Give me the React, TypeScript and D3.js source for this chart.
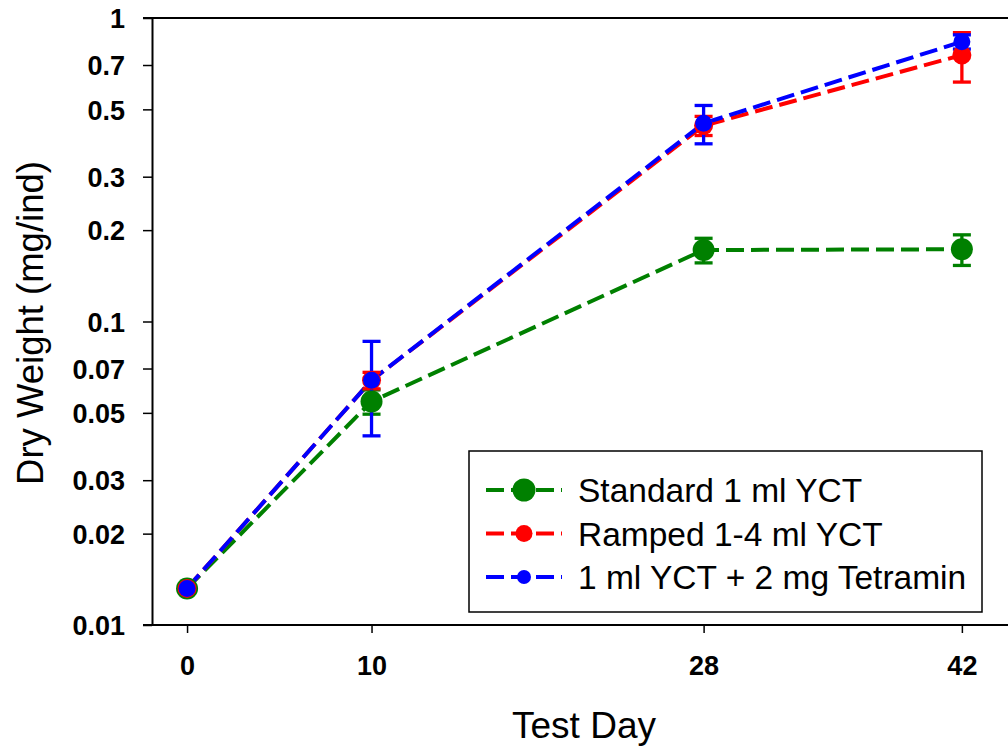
import React, { useRef, useEffect } from 'react';
import * as d3 from 'd3';

// test days and measured dry weights (mg/ind), with error bar half-widths
const days = [0, 10, 28, 42];
const standardMean = [0.0132, 0.0545, 0.172, 0.173];
const standardErr = [0, 0.005, 0.016, 0.02];
const rampedMean = [0.0132, 0.064, 0.442, 0.755];
const rampedErr = [0, 0.004, 0.032, 0.14];
const tetraminMean = [0.0132, 0.064, 0.45, 0.835];
const tetraminErr = [0, 0.022, 0.065, 0.045];

const seriesNames = ['Standard 1 ml YCT', 'Ramped 1-4 ml YCT', '1 ml YCT + 2 mg Tetramin'];
const yTicks = [0.01, 0.02, 0.03, 0.05, 0.07, 0.1, 0.2, 0.3, 0.5, 0.7, 1];
const xTicks = [0, 10, 28, 42];

const FONT = "Arial, 'Liberation Sans', sans-serif";

const App = () => {
  const svgRef = useRef<SVGSVGElement>(null);
  const width = 1008;
  const height = 750;

  useEffect(() => {
    const svg = d3.select(svgRef.current);
    svg.selectAll('*').remove();

    const plotLeft = 152;
    const plotTop = 18;
    const plotBottom = 625;

    const x = d3.scaleLinear().domain([-1.9, 44.5]).range([plotLeft, width]);
    const y = d3.scaleLog().domain([0.01, 1]).range([plotBottom, plotTop]);

    const series = [
      { name: seriesNames[0], mean: standardMean, err: standardErr, color: '#008000', r: 11, lr: 11.5 },
      { name: seriesNames[1], mean: rampedMean, err: rampedErr, color: '#ff0000', r: 9.5, lr: 8.5 },
      { name: seriesNames[2], mean: tetraminMean, err: tetraminErr, color: '#0000ff', r: 8.5, lr: 7 },
    ];

    // frame lines
    svg.append('line')
      .attr('x1', plotLeft - 9).attr('x2', width)
      .attr('y1', plotTop).attr('y2', plotTop)
      .attr('stroke', '#000').attr('stroke-width', 2);
    svg.append('line')
      .attr('x1', plotLeft - 9).attr('x2', width)
      .attr('y1', plotBottom).attr('y2', plotBottom)
      .attr('stroke', '#000').attr('stroke-width', 2);

    // y axis
    const yAxis = svg.append('g')
      .attr('transform', `translate(${plotLeft},0)`)
      .call(d3.axisLeft(y).tickValues(yTicks).tickFormat(d => String(d)).tickSize(9).tickSizeOuter(0).tickPadding(18));
    yAxis.select('.domain').attr('stroke-width', 2);
    yAxis.selectAll('.tick line').attr('stroke-width', 1.5);
    yAxis.selectAll('.tick text')
      .attr('font-family', FONT).attr('font-size', 27).attr('font-weight', 'bold')
      .attr('fill', '#000').attr('dy', '0.36em');

    // x axis
    const xAxis = svg.append('g')
      .attr('transform', `translate(0,${plotBottom})`)
      .call(d3.axisBottom(x).tickValues(xTicks).tickFormat(d => String(d)).tickSize(8).tickSizeOuter(0).tickPadding(23));
    xAxis.select('.domain').remove();
    xAxis.selectAll('.tick line').attr('stroke-width', 1.5);
    xAxis.selectAll('.tick text')
      .attr('font-family', FONT).attr('font-size', 27).attr('font-weight', 'bold').attr('fill', '#000');

    // axis titles
    svg.append('text')
      .attr('x', 584).attr('y', 738)
      .attr('text-anchor', 'middle')
      .attr('font-family', FONT).attr('font-size', 37)
      .text('Test Day');
    svg.append('text')
      .attr('transform', 'translate(43,323) rotate(-90)')
      .attr('text-anchor', 'middle')
      .attr('font-family', FONT).attr('font-size', 36.5)
      .text('Dry Weight (mg/ind)');

    const line = d3.line<number>()
      .x((_, i) => x(days[i]))
      .y(d => y(d));

    // dashed lines
    series.forEach(s => {
      svg.append('path')
        .attr('d', line(s.mean))
        .attr('fill', 'none')
        .attr('stroke', s.color)
        .attr('stroke-width', 4)
        .attr('stroke-dasharray', '18,7');
    });

    // error bars
    series.forEach(s => {
      const g = svg.append('g').attr('stroke', s.color).attr('stroke-width', 3.3);
      s.mean.forEach((m, i) => {
        if (!s.err[i]) return;
        const cx = x(days[i]);
        const yTop = y(m + s.err[i]);
        const yBot = y(m - s.err[i]);
        g.append('line').attr('x1', cx).attr('x2', cx).attr('y1', yTop).attr('y2', yBot);
        g.append('line').attr('x1', cx - 9).attr('x2', cx + 9).attr('y1', yTop).attr('y2', yTop);
        g.append('line').attr('x1', cx - 9).attr('x2', cx + 9).attr('y1', yBot).attr('y2', yBot);
      });
    });

    // markers
    series.forEach(s => {
      svg.append('g')
        .selectAll('circle')
        .data(s.mean)
        .join('circle')
        .attr('cx', (_, i) => x(days[i]))
        .attr('cy', d => y(d))
        .attr('r', s.r)
        .attr('fill', s.color);
    });

    // legend
    const legend = svg.append('g');
    legend.append('rect')
      .attr('x', 469).attr('y', 451)
      .attr('width', 513).attr('height', 161)
      .attr('fill', '#fff').attr('stroke', '#000').attr('stroke-width', 1.5);
    series.forEach((s, i) => {
      const cy = 490 + i * 43.5;
      legend.append('line')
        .attr('x1', 486).attr('x2', 562)
        .attr('y1', cy).attr('y2', cy)
        .attr('stroke', s.color).attr('stroke-width', 4)
        .attr('stroke-dasharray', '18,7');
      legend.append('circle')
        .attr('cx', 524).attr('cy', cy).attr('r', s.lr).attr('fill', s.color);
      legend.append('text')
        .attr('x', 578).attr('y', cy + 12)
        .attr('font-family', FONT).attr('font-size', 33.5)
        .attr('fill', '#000')
        .text(s.name);
    });
  }, []);

  return (
    <svg
      ref={svgRef}
      width={width}
      height={height}
      style={{ position: 'absolute', left: 0, top: 0, background: '#fff' }}
    />
  );
};

export default App;
